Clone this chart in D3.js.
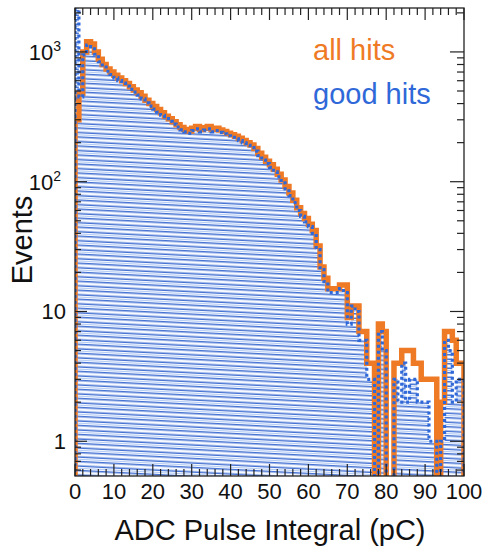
<!DOCTYPE html>
<html>
<head>
<meta charset="utf-8">
<script src="https://cdn.jsdelivr.net/npm/d3@7"></script>
<style>
  body { margin: 0; background: #fff; }
  svg text { font-family: "Liberation Sans", Arial, Helvetica, sans-serif; }
</style>
</head>
<body>
<script>
// ADC pulse integral, 1 pC bins from 0 to 100
var binEdges = d3.range(0, 101, 1);

var allHits = [
  300, 480, 1000, 1200, 1150, 1000, 880, 800, 740, 700,
  660, 630, 600, 570, 540, 510, 485, 455, 425, 400,
  380, 360, 340, 320, 305, 290, 275, 262, 252, 246,
  258, 266, 252, 260, 266, 252, 258, 250, 244, 236,
  230, 224, 216, 208, 200, 192, 180, 166, 154, 144,
  135, 125, 114, 103, 92, 82, 72, 63, 57, 52,
  47, 42, 32, 22, 18, 15, 15, 15, 16, 16,
  9, 11, 11, 7, 7, 4, 4, 0, 8, 7,
  0, 0, 4, 4, 5, 5, 5, 4, 4, 3,
  3, 3, 3, 0, 2, 7, 7, 6, 4, 4
];

var goodHits = [
  5000, 450, 950, 1130, 1100, 960, 840, 765, 710, 670,
  630, 600, 575, 545, 515, 490, 465, 435, 405, 382,
  362, 344, 325, 306, 292, 278, 264, 251, 242, 236,
  248, 255, 242, 250, 255, 242, 248, 240, 234, 226,
  220, 214, 207, 199, 191, 183, 172, 159, 147, 138,
  129, 119, 109, 98, 88, 78, 69, 60, 54, 49,
  45, 40, 30, 21, 17, 14, 14, 14, 15, 14,
  8, 11, 10, 6, 6, 3, 3, 0, 7, 5,
  0, 0, 3, 2, 4, 2, 3, 3, 2, 2,
  2, 1, 1, 0, 1, 6, 5, 2, 3, 3
];

var xTickValues = [0, 10, 20, 30, 40, 50, 60, 70, 80, 90, 100];
var yTickValues = [1, 10, 100, 1000];
var yTickExponents = ["", "", "2", "3"];
var legendLabels = ["all hits", "good hits"];

var orange = "#ef7a26";
var blue = "#2f68d8";

var W = 488, H = 548;
var mLeft = 75, mRight = 464, mTop = 8, mBottom = 476;

var svg = d3.select("body").append("svg").attr("width", W).attr("height", H);

var x = d3.scaleLinear().domain([0, 100]).range([mLeft, mRight]);
var y = d3.scaleLog().domain([0.54, 2180]).range([mBottom, mTop]);

// zero bins fall below the frame
function yv(v) { return v > 0 ? y(v) : mBottom + 20; }

function stepPoints(vals) {
  var pts = [[x(binEdges[0]), mBottom + 20]];
  vals.forEach(function(v, i) {
    pts.push([x(binEdges[i]), yv(v)]);
    pts.push([x(binEdges[i + 1]), yv(v)]);
  });
  pts.push([x(binEdges[binEdges.length - 1]), mBottom + 20]);
  return pts;
}

var defs = svg.append("defs");
defs.append("clipPath").attr("id", "plotclip")
  .append("rect").attr("x", mLeft).attr("y", mTop)
  .attr("width", mRight - mLeft).attr("height", mBottom - mTop);

// hatch: blue lines with lighter lines between, slightly tilted
var pat = defs.append("pattern").attr("id", "hatch")
  .attr("patternUnits", "userSpaceOnUse")
  .attr("width", 40).attr("height", 9)
  .attr("patternTransform", "rotate(3)");
pat.append("rect").attr("width", 40).attr("height", 9).attr("fill", "#f6f9ff");
[2.25, 6.75].forEach(function(p) {
  pat.append("line").attr("x1", 0).attr("x2", 40).attr("y1", p).attr("y2", p)
    .attr("stroke", "#4471d2").attr("stroke-width", 1.3);
});
[4.5].forEach(function(p) {
  pat.append("line").attr("x1", 0).attr("x2", 40).attr("y1", p).attr("y2", p)
    .attr("stroke", "#b3cbf3").attr("stroke-width", 1);
});

var plot = svg.append("g").attr("clip-path", "url(#plotclip)");
var line = d3.line();

// good hits hatched area
plot.append("path").attr("d", line(stepPoints(goodHits)) + "Z")
  .attr("fill", "url(#hatch)").attr("stroke", "none");

// all hits outline
plot.append("path").attr("d", line(stepPoints(allHits)))
  .attr("fill", "none").attr("stroke", orange).attr("stroke-width", 5.5);

// good hits dashed outline
plot.append("path").attr("d", line(stepPoints(goodHits)))
  .attr("fill", "none").attr("stroke", blue).attr("stroke-width", 3.2)
  .attr("stroke-dasharray", "3,3");

// frame
svg.append("rect").attr("x", mLeft).attr("y", mTop)
  .attr("width", mRight - mLeft).attr("height", mBottom - mTop)
  .attr("fill", "none").attr("stroke", "#222").attr("stroke-width", 1.3);

var ticks = svg.append("g").attr("stroke", "#222").attr("stroke-width", 1.2);

// x ticks, inside on top and bottom
d3.range(0, 101, 2).forEach(function(v) {
  var len = v % 10 === 0 ? 12 : 7;
  ticks.append("line").attr("x1", x(v)).attr("x2", x(v)).attr("y1", mBottom).attr("y2", mBottom - len);
  ticks.append("line").attr("x1", x(v)).attr("x2", x(v)).attr("y1", mTop).attr("y2", mTop + len);
});

// y ticks, log decades with minor ticks
y.ticks().forEach(function(v) {
  var major = yTickValues.indexOf(v) >= 0;
  var yy = y(v);
  ticks.append("line").attr("x1", mLeft).attr("x2", mLeft + (major ? 12 : 6)).attr("y1", yy).attr("y2", yy);
  ticks.append("line").attr("x1", mRight).attr("x2", mRight - (major ? 14 : 7)).attr("y1", yy).attr("y2", yy);
});

// x tick labels
svg.append("g").selectAll("text").data(xTickValues).join("text")
  .attr("x", function(d) { return x(d); })
  .attr("y", 499)
  .attr("text-anchor", "middle")
  .attr("font-size", 22)
  .attr("fill", "#111")
  .text(function(d) { return d; });

// y tick labels
yTickValues.forEach(function(v, i) {
  var t = svg.append("text")
    .attr("x", yTickExponents[i] ? 61 : 66)
    .attr("y", y(v) + 8)
    .attr("text-anchor", "end")
    .attr("font-size", 22)
    .attr("fill", "#111");
  t.append("tspan").text(v === 1 ? "1" : "10");
  if (yTickExponents[i]) {
    t.append("tspan").attr("font-size", 14).attr("dy", -9).text(yTickExponents[i]);
  }
});

// axis titles
svg.append("text")
  .attr("x", 270).attr("y", 540)
  .attr("text-anchor", "middle")
  .attr("font-size", 29)
  .attr("fill", "#111")
  .text("ADC Pulse Integral (pC)");

svg.append("text")
  .attr("transform", "translate(32,240) rotate(-90)")
  .attr("text-anchor", "middle")
  .attr("font-size", 29)
  .attr("fill", "#111")
  .text("Events");

// legend
svg.append("text").attr("x", 313).attr("y", 60).attr("font-size", 29)
  .attr("fill", orange).text(legendLabels[0]);
svg.append("text").attr("x", 313).attr("y", 104).attr("font-size", 29)
  .attr("fill", blue).text(legendLabels[1]);
</script>
</body>
</html>
